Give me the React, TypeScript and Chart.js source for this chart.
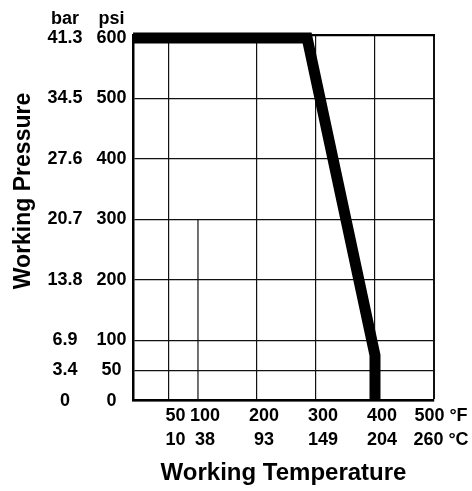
import React, { useEffect, useRef } from 'react';
import { Chart, registerables } from 'chart.js';

Chart.register(...registerables);

// ---- data ----
const tempF = [50, 100, 200, 300, 400, 500];
const tempC = ['10', '38', '93', '149', '204', '260'];
const psiTicks = [0, 50, 100, 200, 300, 400, 500, 600];
const barTicks = ['0', '3.4', '6.9', '13.8', '20.7', '27.6', '34.5', '41.3'];
const curveTempF = [-10, 285, 400, 400];
const curvePsi = [600, 600, 75, 0];

const FONT = '"Liberation Sans", Arial, Helvetica, sans-serif';
const tickFont = { family: FONT, size: 18, weight: 'bold' as const, lineHeight: 1.3 };
const PSI_PAD = 6.5;
const BAR_PAD = 7.5;

const extras = {
  id: 'extras',
  beforeDatasetsDraw(chart: any) {
    const { ctx, chartArea, scales } = chart;
    // partial 100 °F grid line (only drawn from 300 psi downwards in the original)
    const x = scales.x.getPixelForValue(100);
    const yTop = scales.y.getPixelForValue(300);
    ctx.save();
    ctx.strokeStyle = '#111';
    ctx.lineWidth = 1.2;
    ctx.beginPath();
    ctx.moveTo(x, yTop);
    ctx.lineTo(x, chartArea.bottom);
    ctx.stroke();
    ctx.restore();
  },
  afterDraw(chart: any) {
    const { ctx, chartArea, scales } = chart;
    ctx.save();
    ctx.fillStyle = '#000';
    ctx.font = `bold 18px ${FONT}`;
    ctx.textAlign = 'center';
    ctx.textBaseline = 'alphabetic';
    const psiX = chartArea.left - PSI_PAD - ctx.measureText('600').width / 2;
    const barX = scales.yBar.right - BAR_PAD - ctx.measureText('41.3').width / 2;
    ctx.fillText('bar', barX, 24);
    ctx.fillText('psi', psiX, 24);
    ctx.font = `bold 23px ${FONT}`;
    ctx.translate(24, 191);
    ctx.rotate(-Math.PI / 2);
    ctx.textBaseline = 'middle';
    ctx.fillText('Working Pressure', 0, 0);
    ctx.restore();
  },
};

export default function App() {
  const ref = useRef<HTMLCanvasElement>(null);
  useEffect(() => {
    const canvas = ref.current;
    if (!canvas) return;
    const chart = new Chart(canvas, {
      type: 'line',
      data: {
        datasets: [
          {
            data: curveTempF.map((t, i) => ({ x: t, y: curvePsi[i] })),
            borderColor: '#000',
            borderWidth: 11,
            borderJoinStyle: 'miter',
            borderCapStyle: 'butt',
            pointRadius: 0,
            tension: 0,
            fill: false,
            clip: false as any,
          },
        ],
      },
      options: {
        responsive: false,
        animation: false,
        devicePixelRatio: 1,
        events: [],
        layout: { padding: { left: 40, right: 38, top: 35, bottom: 0 } },
        plugins: { legend: { display: false }, tooltip: { enabled: false } },
        scales: {
          x: {
            type: 'linear',
            position: 'bottom',
            min: -10,
            max: 500,
            afterBuildTicks: (s: any) => {
              s.ticks = tempF.map((v) => ({ value: v }));
            },
            grid: {
              color: (c: any) => (c.tick && c.tick.value === 100 ? 'rgba(0,0,0,0)' : '#111'),
              lineWidth: (c: any) => (c.tick && c.tick.value === 500 ? 2 : 1.2),
              drawTicks: false,
            },
            border: { display: true, color: '#000', width: 2.5 },
            ticks: {
              autoSkip: false,
              maxRotation: 0,
              labelOffset: 7,
              padding: 4,
              color: '#000',
              font: tickFont,
              callback: (v: any) => {
                const i = tempF.indexOf(Number(v));
                const last = i === tempF.length - 1;
                return [String(v) + (last ? ' °F' : ''), tempC[i] + (last ? ' °C' : '')];
              },
            },
            title: {
              display: true,
              text: 'Working Temperature',
              color: '#000',
              font: { family: FONT, size: 24, weight: 'bold' },
              padding: { top: 3.7, bottom: 3 },
            },
          },
          xTop: {
            type: 'linear',
            position: 'top',
            min: -10,
            max: 500,
            grid: { display: false, drawTicks: false },
            border: { display: true, color: '#000', width: 2.2 },
            ticks: { display: false },
          },
          y: {
            type: 'linear',
            position: 'left',
            weight: 0,
            min: 0,
            max: 605,
            afterBuildTicks: (s: any) => {
              s.ticks = psiTicks.map((v) => ({ value: v }));
            },
            grid: {
              color: (c: any) => (c.tick && c.tick.value === 600 ? 'rgba(0,0,0,0)' : '#111'),
              lineWidth: 1.2,
              drawTicks: false,
            },
            border: { display: true, color: '#000', width: 2.5 },
            ticks: {
              autoSkip: false,
              padding: PSI_PAD,
              crossAlign: 'center',
              color: '#000',
              font: tickFont,
              callback: (v: any) => String(v),
            },
          },
          yBar: {
            type: 'linear',
            position: 'left',
            weight: 1,
            min: 0,
            max: 605,
            afterBuildTicks: (s: any) => {
              s.ticks = psiTicks.map((v) => ({ value: v }));
            },
            grid: { display: false, drawTicks: false },
            border: { display: false },
            ticks: {
              autoSkip: false,
              padding: BAR_PAD,
              crossAlign: 'center',
              color: '#000',
              font: tickFont,
              callback: (v: any) => barTicks[psiTicks.indexOf(Number(v))],
            },
          },
        },
      },
      plugins: [extras],
    });
    return () => chart.destroy();
  }, []);

  return (
    <div style={{ position: 'absolute', left: 0, top: 0, width: 472, height: 491, background: '#fff' }}>
      <canvas ref={ref} width={472} height={491} style={{ display: 'block' }} />
    </div>
  );
}
